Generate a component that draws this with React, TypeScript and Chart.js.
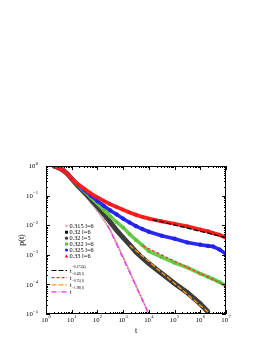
import React, { useEffect, useRef } from "react";
import { Chart, registerables } from "chart.js";
Chart.register(...registerables);

// time points (t)
const T = [2, 3, 4, 5, 7, 10, 18, 32, 56, 100, 178, 316, 562, 1000, 1778, 3162, 5623, 1e4, 31623, 1e5, 316228, 1e6, 2e6, 3162278, 5623413, 1e7];

const P_0315_L6 = [1.0, 0.88, 0.78, 0.68, 0.53, 0.365, 0.19, 0.105, 0.056, 0.03, 0.0148, 0.0068, 0.0025, 8.5e-4, 2.8e-4, 9.3e-5, 3.0e-5, 1.0e-5, null, null, null, null, null, null, null, null];
const P_032_L6 = [1.0, 0.88, 0.78, 0.68, 0.53, 0.37, 0.209, 0.126, 0.076, 0.044, 0.024, 0.0126, 0.0068, 0.0038, 0.0022, 0.00126, 7.9e-4, 5.2e-4, 2.4e-4, 1.1e-4, 5.4e-5, 2.3e-5, 1.1e-5, null, null, null];
const P_032_L5 = [1.0, 0.88, 0.78, 0.68, 0.53, 0.37, 0.207, 0.125, 0.075, 0.043, 0.0238, 0.0125, 0.0067, 0.0038, 0.0022, 0.00125, 7.8e-4, 5.1e-4, 2.35e-4, 1.08e-4, 5.2e-5, 2.2e-5, 1.2e-5, null, null, null];
const P_0322_L6 = [1.0, 0.88, 0.78, 0.68, 0.53, 0.37, 0.219, 0.138, 0.087, 0.054, 0.033, 0.02, 0.0126, 0.0083, 0.005, 0.00316, 0.0021, 0.00132, 8.3e-4, 5.4e-4, 3.7e-4, 2.3e-4, 1.8e-4, 1.5e-4, 1.2e-4, 8.9e-5];
const P_0325_L6 = [1.0, 0.88, 0.78, 0.68, 0.53, 0.37, 0.229, 0.151, 0.1, 0.066, 0.045, 0.0316, 0.023, 0.0166, 0.0123, 0.0093, 0.0074, 0.006, 0.0044, 0.0035, 0.0026, 0.0022, 0.002, 0.0019, 0.0015, 0.00107];
const P_033_L6 = [1.0, 0.88, 0.78, 0.68, 0.53, 0.37, 0.24, 0.166, 0.117, 0.087, 0.066, 0.051, 0.041, 0.033, 0.027, 0.0224, 0.019, 0.0166, 0.0135, 0.0112, 0.0091, 0.0071, 0.0062, 0.0054, 0.0047, 0.0038];

// power-law fits: endpoints [t, p]
const FIT_0173_T = [1.4e4, 1e7];
const FIT_0173_P = [0.0155, 0.0038];
const FIT_049_T = [5.9e3, 1e7];
const FIT_049_P = [0.002, 8.9e-5];
const FIT_075_T = [1.8e3, 2.5e6];
const FIT_075_P = [0.0021, 1e-5];
const FIT_198_T = [250, 1e4];
const FIT_198_P = [0.01, 1e-5];

const SERIES_LABELS = ["0.315 l=6", "0.32 l=6", "0.32 l=5", "0.322 l=6", "0.325 l=6", "0.33 l=6"];
const FIT_EXPONENTS = ["\u22120.173(4)", "\u22120.49(1)", "\u22120.75(1)", "\u22121.98(1)"];
const X_TICK_EXP = [0, 1, 2, 3, 4, 5, 6, 7];
const Y_TICK_EXP = [0, -1, -2, -3, -4, -5];

const SERIF = "'Liberation Serif', 'DejaVu Serif', serif";

const seriesStyle = [
  { data: P_0315_L6, color: "#c89a9a", line: "#d0a8a8", width: 1.6, point: "crossRot", r: 1.6 },
  { data: P_032_L6, color: "#111111", line: "#111111", width: 3.6, point: "rect", r: 1.8 },
  { data: P_032_L5, color: "#3c3c3c", line: "#3c3c3c", width: 5, point: "circle", r: 1.8 },
  { data: P_0322_L6, color: "#5cc43c", line: "#6acb4a", width: 3.6, point: "rect", r: 1.8 },
  { data: P_0325_L6, color: "#2020f0", line: "#2a2af2", width: 3.6, point: "circle", r: 1.8 },
  { data: P_033_L6, color: "#f01818", line: "#ff2020", width: 3.8, point: "triangle", r: 2 },
];

const fitStyle = [
  { t: FIT_0173_T, p: FIT_0173_P, color: "#000000", dash: [5, 2] },
  { t: FIT_049_T, p: FIT_049_P, color: "#ff3030", dash: [3, 2] },
  { t: FIT_075_T, p: FIT_075_P, color: "#ff9a10", dash: [5, 2] },
  { t: FIT_198_T, p: FIT_198_P, color: "#ee33ee", dash: [5, 2, 1, 2] },
];

const supText = (ctx: CanvasRenderingContext2D, base: string, exp: string, x: number, y: number, align: string, bs: number, es: number) => {
  ctx.font = `${bs}px ${SERIF}`;
  const wb = ctx.measureText(base).width;
  ctx.font = `${es}px ${SERIF}`;
  const we = ctx.measureText(exp).width;
  const total = wb + we + 0.3;
  let sx = x;
  if (align === "center") sx = x - total / 2;
  else if (align === "right") sx = x - total;
  ctx.textBaseline = "middle";
  ctx.textAlign = "left";
  ctx.font = `${bs}px ${SERIF}`;
  ctx.fillText(base, sx, y);
  ctx.font = `${es}px ${SERIF}`;
  ctx.fillText(exp, sx + wb + 0.3, y - bs * 0.45);
};

const framePlugin = {
  id: "frame",
  afterDatasetsDraw(chart: any) {
    const ctx: CanvasRenderingContext2D = chart.ctx;
    const { left, right, top, bottom } = chart.chartArea;
    const xs = chart.scales.x;
    const ys = chart.scales.y;
    ctx.save();
    ctx.strokeStyle = "#000";
    ctx.fillStyle = "#000";
    ctx.lineWidth = 1;
    ctx.setLineDash([]);
    ctx.strokeRect(left + 0.5, top + 0.5, right - left - 1, bottom - top - 1);
    ctx.beginPath();
    for (let e = 0; e <= 7; e++) {
      for (let k = 1; k <= 9; k++) {
        if (e === 7 && k > 1) break;
        const v = k * Math.pow(10, e);
        const px = Math.round(xs.getPixelForValue(v)) + 0.5;
        const len = k === 1 ? 4 : 2;
        ctx.moveTo(px, bottom);
        ctx.lineTo(px, bottom - len);
        ctx.moveTo(px, top);
        ctx.lineTo(px, top + len);
      }
    }
    for (let e = -5; e <= 0; e++) {
      for (let k = 1; k <= 9; k++) {
        if (e === 0 && k > 1) break;
        const v = k * Math.pow(10, e);
        const py = Math.round(ys.getPixelForValue(v)) + 0.5;
        const len = k === 1 ? 4 : 2;
        ctx.moveTo(left, py);
        ctx.lineTo(left + len, py);
        ctx.moveTo(right, py);
        ctx.lineTo(right - len, py);
      }
    }
    ctx.stroke();

    X_TICK_EXP.forEach((e) => {
      const px = xs.getPixelForValue(Math.pow(10, e));
      supText(ctx, "10", String(e), px, bottom + 6, "center", 6.8, 4.6);
    });
    Y_TICK_EXP.forEach((e) => {
      const py = ys.getPixelForValue(Math.pow(10, e));
      supText(ctx, "10", e < 0 ? "\u2212" + String(-e) : String(e), left - 8, py + 0.5, "right", 6.8, 4.6);
    });

    ctx.font = `8px ${SERIF}`;
    ctx.textAlign = "center";
    ctx.textBaseline = "middle";
    ctx.fillText("t", (left + right) / 2, bottom + 17);
    ctx.save();
    ctx.translate(22, (top + bottom) / 2);
    ctx.rotate(-Math.PI / 2);
    ctx.fillText("p(t)", 0, 0);
    ctx.restore();

    const rowY = [226, 232.2, 238.2, 244.1, 250, 256];
    SERIES_LABELS.forEach((lab, i) => {
      const s = seriesStyle[i];
      const y = rowY[i];
      ctx.save();
      ctx.fillStyle = s.color;
      ctx.strokeStyle = s.color;
      ctx.lineWidth = 1;
      const mx = 66.5;
      if (s.point === "rect") ctx.fillRect(mx - 1.5, y - 1.5, 3, 3);
      else if (s.point === "circle") { ctx.beginPath(); ctx.arc(mx, y, 1.6, 0, Math.PI * 2); ctx.fill(); }
      else if (s.point === "triangle") { ctx.beginPath(); ctx.moveTo(mx, y - 1.8); ctx.lineTo(mx + 1.8, y + 1.4); ctx.lineTo(mx - 1.8, y + 1.4); ctx.closePath(); ctx.fill(); }
      else { ctx.beginPath(); ctx.moveTo(mx - 1.3, y - 1.3); ctx.lineTo(mx + 1.3, y + 1.3); ctx.moveTo(mx + 1.3, y - 1.3); ctx.lineTo(mx - 1.3, y + 1.3); ctx.stroke(); }
      ctx.restore();
      ctx.font = `6.3px ${SERIF}`;
      ctx.textAlign = "left";
      ctx.textBaseline = "middle";
      ctx.fillStyle = "#000";
      ctx.fillText(lab, 69.5, y + 0.3);
    });

    const fitY = [270, 277.2, 284.3, 291.3];
    fitStyle.forEach((f, i) => {
      const y = fitY[i];
      ctx.save();
      ctx.strokeStyle = f.color;
      ctx.lineWidth = 1.2;
      ctx.setLineDash(f.dash);
      ctx.beginPath();
      ctx.moveTo(51.5, y + 0.5);
      ctx.lineTo(67, y + 0.5);
      ctx.stroke();
      ctx.restore();
      ctx.fillStyle = "#000";
      ctx.font = `6.3px ${SERIF}`;
      ctx.textAlign = "left";
      ctx.textBaseline = "middle";
      ctx.fillText("t", 70, y + 1);
      ctx.font = `3.4px ${SERIF}`;
      ctx.fillText(FIT_EXPONENTS[i], 72.2, y - 3.2);
    });
    ctx.restore();
  },
};

export default function App() {
  const ref = useRef<HTMLCanvasElement>(null);
  useEffect(() => {
    const datasets: any[] = [];
    fitStyle.forEach((f, i) => {
      datasets.push({
        label: "fit" + i,
        data: f.t.map((t, j) => ({ x: t, y: f.p[j] })),
        showLine: true,
        borderColor: f.color,
        borderWidth: 1.3,
        borderDash: f.dash,
        pointRadius: 0,
        order: 0,
      });
    });
    seriesStyle.forEach((s, i) => {
      datasets.push({
        label: SERIES_LABELS[i],
        data: T.map((t, j) => ({ x: t, y: s.data[j] })).filter((d) => d.y !== null),
        showLine: true,
        borderColor: s.line,
        backgroundColor: s.color,
        borderWidth: s.width,
        pointStyle: s.point,
        pointRadius: s.r,
        pointBorderColor: s.color,
        pointBackgroundColor: s.color,
        pointBorderWidth: 0.8,
        order: 10 - i,
      });
    });
    const chart = new Chart(ref.current as HTMLCanvasElement, {
      type: "scatter",
      data: { datasets },
      options: {
        responsive: false,
        animation: false,
        devicePixelRatio: 1,
        layout: { padding: { left: 46, right: 48, top: 166, bottom: 40 } },
        elements: { line: { tension: 0 } },
        scales: {
          x: { type: "logarithmic", min: 1, max: 1e7, display: false },
          y: { type: "logarithmic", min: 1e-5, max: 1, display: false },
        },
        plugins: { legend: { display: false }, tooltip: { enabled: false } },
      },
      plugins: [framePlugin],
    } as any);
    return () => chart.destroy();
  }, []);
  return (
    <div style={{ position: "fixed", left: 0, top: 0, width: 274, height: 354, background: "#fff" }}>
      <canvas ref={ref} width={274} height={354} style={{ display: "block", width: 274, height: 354 }} />
    </div>
  );
}
